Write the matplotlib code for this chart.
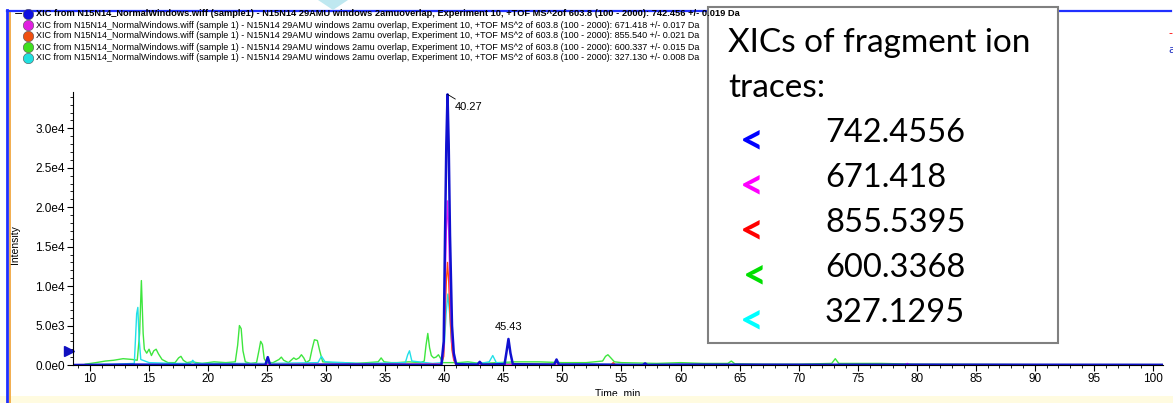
import matplotlib
matplotlib.use("Agg")
import matplotlib.pyplot as plt
from matplotlib.lines import Line2D
from matplotlib.patches import Rectangle, Polygon
from matplotlib.ticker import FixedLocator, MultipleLocator

W, H = 1173, 403

# XIC traces: time (min) / intensity (cps)
t_600 = [9.6, 10.5, 11.3, 12.0, 12.8, 13.6, 14.0, 14.2, 14.35, 14.5, 14.6, 14.8, 15.0, 15.2, 15.4, 15.6, 15.8,
         16.1, 16.6, 17.2, 17.5, 17.7, 17.9, 18.2, 18.6, 19.5, 20.5, 21.5, 22.3, 22.5, 22.65, 22.8, 22.95, 23.15,
         23.6, 24.1, 24.3, 24.45, 24.6, 24.75, 24.95, 25.5, 26.0, 26.2, 26.4, 26.8, 27.1, 27.25, 27.45, 27.7,
         27.9, 28.1, 28.3, 28.6, 28.8, 29.0, 29.25, 29.45, 29.7, 30.5, 31.5, 32.5, 33.5, 34.4, 34.65, 34.9,
         35.5, 36.0, 37.0, 38.0, 38.3, 38.45, 38.6, 38.75, 38.9, 39.1, 39.3, 39.5, 39.7, 39.85, 41.2, 42.0,
         43.0, 44.5, 46.0, 48.0, 50.0, 52.0, 53.4, 53.65, 53.85, 54.1, 54.4, 55.0, 58.0, 60.0, 62.0, 64.0,
         64.3, 64.6, 67.0, 70.0, 72.8, 73.1, 73.4, 77.0, 80.0, 85.0, 90.0, 95.0, 100.8]
i_600 = [100, 300, 500, 600, 800, 700, 600, 4000, 10700, 4000, 2000, 1500, 2000, 1200, 1800, 2000, 1400,
         700, 300, 300, 900, 1100, 600, 300, 400, 200, 400, 300, 400, 2500, 5000, 4600, 1800, 400,
         200, 300, 1800, 3000, 2600, 800, 300, 300, 700, 1000, 600, 300, 700, 900, 700, 900,
         1300, 900, 300, 600, 2000, 3200, 3100, 1800, 400, 300, 300, 200, 300, 400, 900, 400,
         300, 300, 400, 300, 500, 2500, 4000, 2200, 1200, 900, 1000, 1300, 800, 300, 300, 400,
         200, 300, 400, 400, 300, 300, 500, 1100, 1300, 900, 400, 300, 200, 300, 200, 200,
         500, 150, 100, 100, 200, 800, 200, 200, 100, 80, 50, 50, 50]

t_327 = [9.6, 12.0, 13.75, 13.85, 13.95, 14.05, 14.15, 14.3, 15.0, 17.0, 18.5, 18.7, 18.9, 22.0, 25.0, 29.3,
         29.6, 29.9, 33.0, 36.7, 36.9, 37.05, 37.25, 39.0, 39.85, 40.0, 40.15, 40.3, 40.45, 40.6, 40.8, 41.0,
         43.0, 43.8, 44.1, 44.4, 46.0, 50.0, 60.0, 70.0, 80.0, 100.8]
i_327 = [50, 100, 200, 3300, 6500, 7300, 3500, 700, 300, 200, 200, 600, 200, 200, 200, 300,
         1100, 400, 200, 300, 1300, 1800, 500, 200, 300, 2500, 6500, 9000, 6500, 3000, 800, 200,
         200, 400, 1200, 300, 100, 100, 50, 0, 0, 0]

t_855 = [8.6, 20.0, 39.75, 39.95, 40.06, 40.17, 40.27, 40.37, 40.48, 40.65, 40.8, 41.0, 47.0, 54.1, 54.3,
         54.5, 70.0, 100.8]
i_855 = [0, 50, 100, 1100, 6300, 10600, 13000, 10600, 6300, 1900, 600, 50, 100, 0, 300, 0, 0, 0]

t_671 = [8.6, 20.0, 39.75, 39.95, 40.06, 40.17, 40.27, 40.37, 40.48, 40.65, 40.8, 41.0, 60.0, 79.0, 79.2,
         79.4, 100.8]
i_671 = [0, 50, 100, 1800, 10000, 17000, 20800, 17000, 10000, 3000, 900, 50, 0, 0, 200, 0, 0]

t_742 = [8.6, 12.0, 14.0, 18.0, 22.0, 24.85, 25.05, 25.25, 30.0, 35.0, 39.75, 39.95, 40.06, 40.17, 40.27,
         40.37, 40.48, 40.65, 40.8, 41.0, 42.8, 43.0, 43.2, 45.1, 45.25, 45.43, 45.6, 45.8, 47.0, 49.3, 49.5,
         49.7, 52.0, 56.8, 57.0, 57.2, 60.0, 70.0, 80.0, 90.0, 100.8]
i_742 = [0, 30, 50, 20, 40, 0, 1000, 0, 40, 50, 0, 3000, 16500, 28000, 34300,
         28000, 16500, 5000, 1500, 100, 50, 400, 50, 100, 1500, 3300, 1500, 100, 80, 50, 700,
         50, 60, 0, 200, 0, 50, 30, 40, 30, 20]

threshold = 1800
peak_labels = [(40.27, 34300), (45.43, 3300)]

traces = [(t_600, i_600, "#3ee63e", 1.0), (t_327, i_327, "#22e0e8", 1.0),
          (t_855, i_855, "#ff4a10", 1.0), (t_671, i_671, "#f020f0", 1.0),
          (t_742, i_742, "#1010d0", 1.8)]

yticks = [0, 5000, 10000, 15000, 20000, 25000, 30000]
yticklabels = ["0.0e0", "5.0e3", "1.0e4", "1.5e4", "2.0e4", "2.5e4", "3.0e4"]
xticks = list(range(10, 101, 5))

xic_prefix = ("XIC from N15N14_NormalWindows.wiff (sample 1) - N15N14 29AMU windows 2amu overlap, "
              "Experiment 10, +TOF MS^2 of 603.8 (100 - 2000): ")
header_bold = ("XIC from N15N14_NormalWindows.wiff (sample1) - N15N14 29AMU windows 2amuoverlap, "
               "Experiment 10, +TOF MS^2of 603.8 (100 - 2000): 742.456 +/- 0.019 Da")
header_rest = ["671.418 +/- 0.017 Da", "855.540 +/- 0.021 Da", "600.337 +/- 0.015 Da", "327.130 +/- 0.008 Da"]
header_colors = ["#1010e0", "#e020e0", "#f05010", "#40e020", "#20e0e0"]

box_title = ["XICs of fragment ion", "traces:"]
box_values = ["742.4556", "671.418", "855.5395", "600.3368", "327.1295"]
box_colors = ["#0000ff", "#ff00ff", "#ff0000", "#00e000", "#00ffff"]

narrow = ["Liberation Sans", "DejaVu Sans"]


def fx(px):
    return px / W


def fy(py):
    return 1 - py / H


fig = plt.figure(figsize=(W / 100, H / 100), dpi=100)
ax = fig.add_axes([fx(73), fy(365), fx(1163) - fx(73), fy(92) - fy(365)])
ax.patch.set_alpha(0)

for t, inten, c, lw in traces:
    ax.plot(t, inten, color=c, lw=lw, solid_joinstyle="round")

ax.set_xlim(8.56, 100.85)
ax.set_ylim(0, 34600)
for s in ["top", "right"]:
    ax.spines[s].set_visible(False)
ax.spines["left"].set_linewidth(0.8)
ax.spines["bottom"].set_linewidth(0.8)

ax.xaxis.set_major_locator(FixedLocator(xticks))
ax.xaxis.set_minor_locator(MultipleLocator(1))
ax.yaxis.set_major_locator(FixedLocator(yticks))
ax.set_yticklabels(yticklabels)
ax.yaxis.set_minor_locator(MultipleLocator(1000))
ax.tick_params(which="major", length=4, width=0.8, labelsize=8.5, pad=2)
ax.tick_params(which="minor", length=2, width=0.6)
for lab in ax.get_xticklabels() + ax.get_yticklabels():
    lab.set_family(narrow)

ax.set_xlabel("Time, min", family=narrow, fontsize=7.5, labelpad=2)
ax.set_ylabel("Intensity", family=narrow, fontsize=7.5, labelpad=4)
ax.yaxis.set_label_coords(-0.049, 0.44)

# threshold arrow on the y axis
ax.plot([ax.get_xlim()[0] - 0.35], [threshold], marker=">", ms=7, color="#1010c0", clip_on=False)

# peak labels
ax.annotate(f"{peak_labels[0][0]:.2f}", xy=peak_labels[0], xytext=(5, -9), textcoords="offset points",
            fontsize=8, family=narrow, va="center", ha="left",
            arrowprops=dict(arrowstyle="-", lw=0.6, color="black", shrinkA=0, shrinkB=0))
ax.annotate(f"{peak_labels[1][0]:.2f}", xy=peak_labels[1], xytext=(0, 5), textcoords="offset points",
            fontsize=8, family=narrow, va="bottom", ha="center")

# header (legend rows of the XIC window)
y0, dy = 14, 11
fig.text(fx(14), fy(y0), "\u2212", fontsize=8, va="center", ha="left", zorder=8)
for k in range(5):
    yy = y0 + k * dy
    fig.add_artist(Line2D([fx(28)], [fy(yy)], marker="o", ms=7.5, color=header_colors[k],
                          mec="#505050", mew=0.4, zorder=8 if k == 0 else 2))
    if k == 0:
        fig.text(fx(36), fy(yy), header_bold, fontsize=6.7, fontweight="bold", family=narrow,
                 va="center", ha="left", zorder=8)
    else:
        fig.text(fx(36), fy(yy), xic_prefix + header_rest[k - 1], fontsize=6.5, family=narrow,
                 va="center", ha="left", zorder=2)

# window frame
fig.add_artist(Rectangle((0, fy(403)), 1, fy(396) - fy(403), color="#fffbe0", lw=0, zorder=1))
fig.add_artist(Line2D([fx(7), fx(7)], [fy(10), 0], color="#2030ff", lw=2, zorder=3))
fig.add_artist(Line2D([fx(10), fx(10)], [fy(12), 0], color="#f0a030", lw=1.2, zorder=3))
fig.add_artist(Line2D([fx(7), fx(1171)], [fy(10.5), fy(10.5)], color="#2030ff", lw=1.6, zorder=3))
fig.add_artist(Polygon([[fx(318), 1], [fx(348), 1], [fx(333), fy(10)]], closed=True,
                       color="#bfe8f0", lw=0, zorder=3))
fig.text(fx(1168), fy(33), "-", color="red", fontsize=8, va="center", zorder=3)
fig.text(fx(1168), fy(50), "a", color="#2030c0", fontsize=8, va="center", zorder=3)

# overlaid text box
fig.add_artist(Rectangle((fx(708), fy(343)), fx(1058) - fx(708), fy(7) - fy(343), facecolor="white",
                         edgecolor="#808080", lw=1.5, zorder=5))
tf = ["Lato", "DejaVu Sans"]
fig.text(fx(728), fy(52), box_title[0], fontsize=24, family=tf, va="baseline", ha="left", zorder=6)
fig.text(fx(728), fy(97), box_title[1], fontsize=24, family=tf, va="baseline", ha="left", zorder=6)
for k in range(5):
    fig.text(fx(825), fy(142 + 45 * k), box_values[k], fontsize=23.5, family=tf, va="baseline",
             ha="left", zorder=6)
    fig.text(fx(740 + (3 if k == 3 else 0)), fy(153 + 45 * k), "<", fontsize=30, family=tf,
             fontweight="bold", color=box_colors[k], va="baseline", ha="left", zorder=6)

fig.savefig("out.png", dpi=100)
